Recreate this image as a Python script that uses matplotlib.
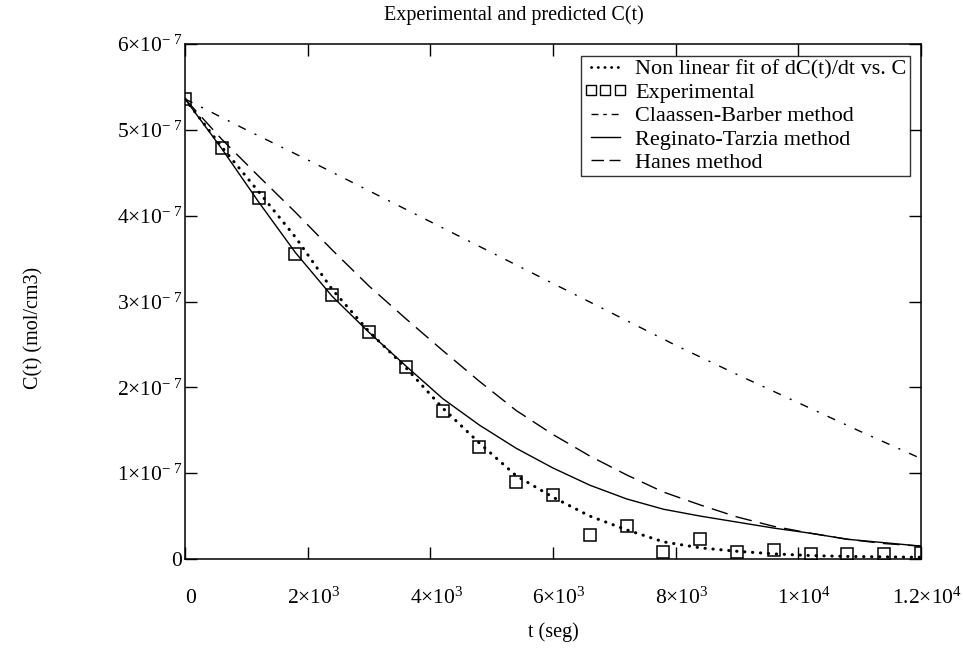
import numpy as np
import matplotlib
matplotlib.use("Agg")
import matplotlib.pyplot as plt
import matplotlib.transforms as mtransforms
from matplotlib.lines import Line2D

plt.rcParams['font.family'] = ['Liberation Serif', 'DejaVu Serif']
plt.rcParams['mathtext.fontset'] = 'custom'
plt.rcParams['mathtext.rm'] = 'Liberation Serif'
plt.rcParams['mathtext.it'] = 'Liberation Serif:italic'
plt.rcParams['mathtext.bf'] = 'Liberation Serif:bold'
plt.rcParams['mathtext.default'] = 'regular'

SCALE = 1e-7  # values below are in units of 1e-7 mol/cm3

# Experimental points (every 600 s)
t_exp = [0, 600, 1200, 1800, 2400, 3000, 3600, 4200, 4800, 5400, 6000,
         6600, 7200, 7800, 8400, 9000, 9600, 10200, 10800, 11400, 12000]
c_exp = [5.36, 4.79, 4.21, 3.55, 3.07, 2.65, 2.24, 1.73, 1.31, 0.90, 0.74,
         0.28, 0.38, 0.085, 0.23, 0.085, 0.10, 0.06, 0.06, 0.06, 0.07]

# Curves
t_curve = [0, 600, 1200, 1800, 2400, 3000, 3600, 4200, 4800, 5400, 6000,
           6600, 7200, 7800, 8400, 9000, 9600, 10200, 10800, 11400, 12000]
c_fit = [5.36, 4.80, 4.28, 3.75, 3.14, 2.65, 2.23, 1.76, 1.35, 0.97, 0.72,
         0.50, 0.34, 0.20, 0.13, 0.09, 0.06, 0.04, 0.03, 0.025, 0.02]
c_rt = [5.36, 4.78, 4.16, 3.57, 3.06, 2.64, 2.25, 1.87, 1.56, 1.29, 1.06,
        0.86, 0.70, 0.58, 0.50, 0.43, 0.36, 0.30, 0.23, 0.19, 0.15]
c_hanes = [5.36, 4.89, 4.46, 4.04, 3.60, 3.18, 2.80, 2.43, 2.07, 1.73, 1.45,
           1.20, 0.98, 0.78, 0.63, 0.49, 0.38, 0.30, 0.23, 0.18, 0.15]
t_cb = [0, 1000, 2000, 3000, 4000, 5000, 6000, 7000, 8000, 9000, 10000, 11000, 12000]
c_cb = [5.36, 5.00, 4.65, 4.29, 3.93, 3.57, 3.21, 2.85, 2.49, 2.15, 1.82, 1.49, 1.17]

x_ticks = [0, 2000, 4000, 6000, 8000, 10000, 12000]
x_ticklabels = ['0', r'$2{\times}10^{3}$', r'$4{\times}10^{3}$', r'$6{\times}10^{3}$',
                r'$8{\times}10^{3}$', r'$1{\times}10^{4}$', r'$1.2{\times}10^{4}$']
y_ticks = [0, 1, 2, 3, 4, 5, 6]
y_ticklabels = ['0'] + [r'$%d{\times}10^{-\;7}$' % v for v in y_ticks[1:]]

title = 'Experimental and predicted C(t)'
xlabel = 't (seg)'
ylabel = 'C(t) (mol/cm3)'
labels = ['Non linear fit of dC(t)/dt vs. C', 'Experimental',
          'Claassen-Barber method', 'Reginato-Tarzia method', 'Hanes method']

FS_TICK = 15.5
FS_TITLE = 14.5
FS_LEG = 16
fig = plt.figure(figsize=(9.63, 6.48), dpi=100)
ax = fig.add_axes([185/963, 1-559/648, (921-185)/963, (559-44)/648])

sc = lambda a: np.asarray(a) * SCALE

DOT = (0, (0.1, 2.5))
h1, = ax.plot(t_curve, sc(c_fit), color='black', lw=2.2,
              linestyle=DOT, dash_capstyle='round')
h2, = ax.plot(t_exp, sc(c_exp), linestyle='none', marker='s', markersize=9,
              markerfacecolor='none', markeredgecolor='black', markeredgewidth=1.1)
h3, = ax.plot(t_cb, sc(c_cb), color='black', lw=1.0, linestyle=(0, (6, 7, 1.5, 7)))
h4, = ax.plot(t_curve, sc(c_rt), color='black', lw=1.0, linestyle='-')
h5, = ax.plot(t_curve, sc(c_hanes), color='black', lw=1.0, linestyle=(0, (12, 6)))

ax.set_xlim(0, 12000)
ax.set_ylim(0, 6e-7)
ax.set_xticks(x_ticks)
ax.set_xticklabels(x_ticklabels, fontsize=FS_TICK)
ax.set_yticks(sc(y_ticks))
ax.set_yticklabels(y_ticklabels, fontsize=FS_TICK)
ax.tick_params(direction='in', length=8.5, width=1.0, top=True, right=True,
               labeltop=False, labelright=False)
ax.tick_params(axis='x', pad=32)
ax.tick_params(axis='y', pad=2)
shift = mtransforms.ScaledTranslation(6/100, 0, fig.dpi_scale_trans)
for lab in ax.get_xticklabels():
    lab.set_transform(lab.get_transform() + shift)
    lab.set_verticalalignment('baseline')
for s in ax.spines.values():
    s.set_linewidth(1.1)

fig.text(514/963, 1-15/648, title, ha='center', va='center', fontsize=FS_TITLE)
fig.text(553/963, 1-632/648, xlabel, ha='center', va='center', fontsize=FS_TITLE)
fig.text(34/963, 1-328/648, ylabel, ha='center', va='center', rotation=90, fontsize=FS_TITLE)

# legend proxies with dash patterns that read well over a short handle
p1 = Line2D([], [], color='black', lw=2.0, linestyle=(0, (0.1, 2.3)), dash_capstyle='round')
p2 = Line2D([], [], linestyle='none', marker='s', markersize=7.5,
            markerfacecolor='none', markeredgecolor='black', markeredgewidth=1.0)
p3 = Line2D([], [], color='black', lw=1.0, linestyle=(0, (5, 3.5, 2.5, 3.5)))
p4 = Line2D([], [], color='black', lw=1.0, linestyle='-')
p5 = Line2D([], [], color='black', lw=1.0, linestyle=(0, (9, 4)))

leg = ax.legend([p1, p2, p3, p4, p5], labels, loc='upper right',
                bbox_to_anchor=(910/963, 1-56/648), bbox_transform=fig.transFigure,
                fontsize=FS_LEG, frameon=True, fancybox=False, shadow=False,
                numpoints=3, handlelength=1.9, handletextpad=0.4,
                borderpad=0.15, labelspacing=0.12, borderaxespad=0)
leg.get_frame().set_edgecolor('black')
leg.get_frame().set_linewidth(1.0)

fig.savefig('out.png', dpi=100)
